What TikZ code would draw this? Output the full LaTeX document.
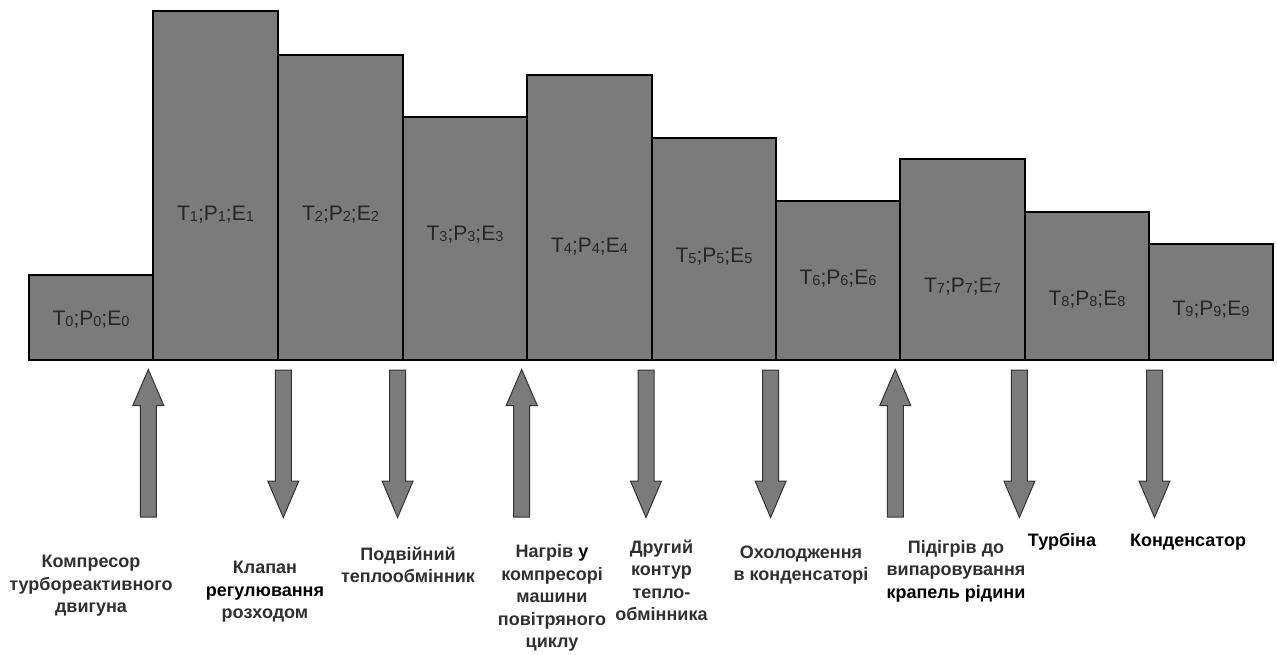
\documentclass[tikz,border=0pt]{standalone}
\usepackage{fontspec}
\setmainfont{Liberation Sans}
\definecolor{barfill}{RGB}{123,123,123}
\definecolor{bartext}{RGB}{38,38,38}
\definecolor{lblgray}{RGB}{48,48,48}
\newcommand\sbs[1]{{\fontsize{14.5}{14.5}\selectfont\raisebox{-0.6pt}{#1}}}
\newcommand\tpe[1]{T\sbs{#1};P\sbs{#1};E\sbs{#1}}
\tikzset{
  bar/.style={draw=black, line width=1.4pt, fill=barfill},
  bartxt/.style={anchor=base, inner sep=0pt, text=bartext, font=\fontsize{21}{21}\selectfont},
  lbl/.style={inner sep=0pt, align=center, text=lblgray, font=\fontsize{18}{22.5}\selectfont\bfseries},
  arr/.style={draw=black!80, line width=1pt, fill=barfill},
  uparr/.pic={\draw[arr] (0,0) -- (15.5,36) -- (8,36) -- (8,147.5) -- (-8,147.5) -- (-8,36) -- (-15.5,36) -- cycle;},
  dnarr/.pic={\draw[arr] (-8,0) -- (8,0) -- (8,111) -- (15.5,111) -- (0,147.5) -- (-15.5,111) -- (-8,111) -- cycle;}
}
\begin{document}
\begin{tikzpicture}[x=1pt,y=-1pt]
\useasboundingbox (0,0) rectangle (1277,654);
\foreach \i/\l/\r/\t/\ty in {0/29/153/275/318, 1/153/278/11/213, 2/278/403/55/213, 3/403/527/117/233, 4/527/652/75/245, 5/652/776/138/255, 6/776/900/201/277, 7/900/1025/159/285, 8/1025/1149/212/298, 9/1149/1273/244/308} {
  \draw[bar] (\l,\t) rectangle (\r,360);
  \node[bartxt] (t\i) at ({(\l+\r)/2},\ty+7.5) {\tpe{\i}};
}
\pic at (148.3,369.5) {uparr};
\pic at (283.3,370) {dnarr};
\pic at (397.6,370) {dnarr};
\pic at (521.7,369.5) {uparr};
\pic at (646,370) {dnarr};
\pic at (770.6,370) {dnarr};
\pic at (895.3,369.5) {uparr};
\pic at (1019.4,370) {dnarr};
\pic at (1154.5,370) {dnarr};

\node[lbl] (l1) at (91,586) {Компресор\\турбореактивного\\двигуна};
\node[lbl] (l2) at (265,592) {Клапан\\{\color{black}регулювання}\\розходом};
\node[lbl] (l3) at (408,565) {Подвійний\\теплообмінник};
\node[lbl] (l4) at (552,598) {Нагрів {\color{black}у}\\компресорі\\машини\\повітряного\\циклу};
\node[lbl] (l5) at (661.5,580.5) {Другий\\контур\\тепло-\\обмінника};
\node[lbl] (l6) at (801,565) {Охолодження\\в конденсаторі};
\node[lbl] (l7) at (956,571) {Підігрів до\\випаровування\\{\color{black}крапель рідини}};
\node[lbl, text=black] (l8) at (1062,542) {Турбіна};
\node[lbl, text=black] (l9) at (1188,542) {Конденсатор};
\end{tikzpicture}
\end{document}
